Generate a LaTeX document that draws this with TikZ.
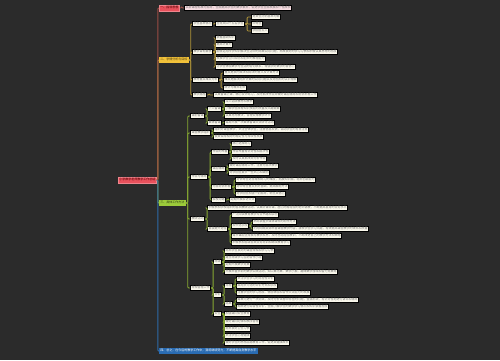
\documentclass[tikz,border=0pt]{standalone}
\usepackage{fontspec}
\newfontfamily\cjk{Noto Sans CJK SC}
\definecolor{bg}{HTML}{2B2B2B}
\definecolor{rootred}{HTML}{E8515C}
\definecolor{pinkbg}{HTML}{F8DDE2}
\definecolor{yelbg}{HTML}{F2C23A}
\definecolor{grnbg}{HTML}{9CCB3B}
\definecolor{blubg}{HTML}{2A6CB3}
\definecolor{leafbg}{HTML}{FAF8EC}
\definecolor{rl}{HTML}{9A4C44}
\definecolor{yl}{HTML}{B09438}
\definecolor{gl}{HTML}{86A832}
\definecolor{bl}{HTML}{2E6BA8}

\begin{document}
\begin{tikzpicture}[x=1pt,y=-1pt,
  every node/.style={anchor=west, font=\cjk\fontsize{3}{3.6}\selectfont,
    inner xsep=1.2pt, inner ysep=1.1pt, text height=2.4pt, text depth=0.6pt},
  elbow/.style={rounded corners=1pt, to path={-- ++(2,0) |- (\tikztotarget)}},
  trunk/.style={rounded corners=1pt, to path={-- ++(1,0) |- (\tikztotarget)}}]
\tikzstyle{leaf}=[fill=leafbg, draw=black, line width=0.7pt, text=black!55]
\tikzstyle{pinkleaf}=[leaf, fill=pinkbg]
\tikzstyle{rootn}=[fill=rootred, draw=rootred!70!white, line width=0.4pt, text=red!30!black, inner ysep=1.8pt]
\tikzstyle{yeln}=[fill=yelbg, text=yelbg!30!black, inner ysep=1.6pt]
\tikzstyle{grnn}=[fill=grnbg, text=grnbg!30!black, inner ysep=1.6pt]
\tikzstyle{blun}=[fill=blubg, text=white, inner ysep=1.6pt]
\tikzstyle{rline}=[draw=rl, line width=1pt]
\tikzstyle{yline}=[draw=yl, line width=0.8pt]
\tikzstyle{gline}=[draw=gl, line width=0.8pt]
\tikzstyle{bline}=[draw=bl, line width=1pt]

\fill[bg] (0,0) rectangle (500,360);
\useasboundingbox (0,0) rectangle (500,360);

% root and main branches
\node[rootn] (R) at (118,180) {小学数学老师教学工作总结};
\node[rootn] (B1) at (159,8) {一、指导思想};
\node[yeln] (B2) at (159,60) {二、学情分析与目标};
\node[grnn] (B3) at (159,203) {三、具体工作方法};
\node[blun] (B4) at (159,351) {四、总之，在今后的教学工作中，我将继续努力，不断提高自身教学水平};

% branch 1
\node[pinkleaf] (r1) at (184,8) {以新课程标准为指导，全面提高学生的数学素养，促进学生全面发展和个性成长};

% branch 2
\node[leaf] (a1) at (192,24) {学生基本情况};
\node[leaf] (a1c) at (215,24) {全班共四十五名学生};
\node[leaf] (a1x) at (251,17) {男女生比例基本均衡};
\node[leaf] (a1y) at (251,24) {中等生};
\node[leaf] (a1z) at (251,31) {学困生五人};
\node[leaf] (a2) at (192,52) {教学目标要求};
\node[leaf] (a2a) at (215,38) {掌握基础知识};
\node[leaf] (a2b) at (215,45) {提高计算力};
\node[leaf] (a2c) at (215,52) {能够运用所学知识解决生活中的简单实际问题，养成良好的学习习惯和积极认真思考的态度};
\node[leaf] (a2d) at (215,59) {发展学生空间观念和初步的推理能力};
\node[leaf] (a2e) at (215,67) {让学生体验数学与生活的密切联系，增强学好数学的自信心};
\node[leaf] (a3) at (192,80) {教材重点难点分析};
\node[leaf] (a3a) at (223,73) {重点是表内乘法和除法的意义及计算方法};
\node[leaf] (a3b) at (223,80) {难点是解决两步计算的实际问题以及对图形的认识理解};
\node[leaf] (a3c) at (223,88) {统计与概率初步};
\node[leaf] (a4) at (192,95) {教学措施};
\node[leaf] (a4a) at (213,95) {认真备课上课，精心设计练习，及时批改作业并做好课后辅导和培优补差工作};

% branch 3
\node[leaf] (g1) at (190,116) {课前备课};
\node[leaf] (g1a) at (207,109) {个人备课};
\node[leaf] (g1a1) at (224,102) {深入钻研教材和教参};
\node[leaf] (g1a2) at (224,109) {了解学生原有知识技能的质量及兴趣需要};
\node[leaf] (g1a3) at (224,116) {认真考虑教法，合理安排教学环节};
\node[leaf] (g1b) at (207,123) {集体备课};
\node[leaf] (g1b1) at (224,123) {每周开展一次集体备课交流研讨活动};
\node[leaf] (g2) at (190,133) {课堂教学组织};
\node[leaf] (g2a) at (213,130) {组织好课堂教学，关注全体学生，注意信息反馈，调动学生的有意注意};
\node[leaf] (g2b) at (213,137) {使其保持相对的稳定性与持续性发展};
\node[leaf] (g3) at (190,177) {作业与辅导};
\node[leaf] (g3a) at (211,152) {作业的布置};
\node[leaf] (g3a1) at (231,144) {精心选择练习};
\node[leaf] (g3a2) at (231,152) {作业布置有针对性和层次性};
\node[leaf] (g3a3) at (231,159) {及时认真批改并分析作业};
\node[leaf] (g3b) at (211,169) {课后辅导};
\node[leaf] (g3b1) at (228,166) {做好课后辅导工作，注意分层次教学};
\node[leaf] (g3b2) at (228,173) {对学困生要多一些关心和鼓励};
\node[leaf] (g3c) at (211,187) {分层培优补差};
\node[leaf] (g3c1) at (235,180) {对优等生适当增加练习的难度，拓展知识面，培养创新能力};
\node[leaf] (g3c2) at (235,187) {对中等生重点抓好基础，提高解题方法};
\node[leaf] (g3c3) at (235,194) {对学困生加强个别指导，树立其信心};
\node[leaf] (g3d) at (211,200) {家校沟通};
\node[leaf] (g3d1) at (229,200) {定期开展家访交流};
\node[leaf] (g4) at (190,219) {教研活动};
\node[leaf] (g4a) at (207,208) {积极参加学校组织的各项教研活动，认真听课评课，虚心向有经验的老师请教，不断提高自身的业务水平};
\node[leaf] (g4b) at (207,229) {自我提升途径};
\node[leaf] (g4b1) at (231,215) {广泛阅读教育教学专业书籍和杂志};
\node[leaf] (g4b2) at (231,226) {现代化手段};
\node[leaf] (g4b2a) at (252,222) {熟练掌握多媒体课件的制作方法};
\node[leaf] (g4b2b) at (252,229) {利用网络资源丰富课堂教学内容，激发学生学习兴趣，有效提高课堂教学的效率和质量};
\node[leaf] (g4b3) at (231,236) {每节课后坚持撰写教学反思，及时总结经验教训，不断改进自己的教学方法和策略};
\node[leaf] (g4b4) at (231,243) {积极参加各级各类业务培训和继续教育学习};
\node[leaf] (g5) at (190,288) {常规管理工作};
\node[leaf] (g5a) at (213,262) {班级};
\node[leaf] (g5a1) at (224,251) {培养学生良好的课堂常规和学习习惯};
\node[leaf] (g5a2) at (224,258) {建立班级学习互助合作小组};
\node[leaf] (g5a3) at (224,265) {定期开展数学竞赛};
\node[leaf] (g5a4) at (224,272) {开展丰富多彩的数学实践活动，如口算比赛、数学小报、趣味数学游戏和智力竞赛等};
\node[leaf] (g5b) at (213,295) {评价};
\node[leaf] (g5b1) at (224,286) {过程};
\node[leaf] (g5b1a) at (236,279) {关注学生学习的过程性评价};
\node[leaf] (g5b1b) at (236,286) {采用多元化的评价方式和手段};
\node[leaf] (g5b1c) at (236,293) {注重学生的学习态度、情感体验和合作交流能力的发展};
\node[leaf] (g5b2) at (224,304) {结果};
\node[leaf] (g5b2a) at (236,300) {每单元进行一次测试，及时分析试卷中存在的问题，查漏补缺，有针对性地进行讲评和辅导};
\node[leaf] (g5b2b) at (236,307) {期末进行综合性评价，全面了解学生的数学学习情况和知识掌握程度};
\node[leaf] (g5c) at (213,314) {安全};
\node[leaf] (g5c1) at (224,314) {加强课间安全教育};
\node[leaf] (g5c2) at (224,322) {做好课间纪律和秩序管理};
\node[leaf] (g5c3) at (224,329) {培养良好卫生习惯};
\node[leaf] (g5c4) at (224,336) {关注学生心理健康};
\node[leaf] (g5c5) at (224,343) {做好学生的思想品德教育工作，促进其健康成长};

% connectors
\draw[gline, line width=1pt] (R.east) edge[trunk] (B3.west);
\draw[bline] (R.east) edge[trunk] (B4.west);
\draw[yline, line width=1pt] (R.east) edge[trunk] (B2.west);
\draw[rline] (R.east) edge[trunk] (B1.west);
\draw[rline, line width=0.8pt] (B1.east) edge[elbow] (r1.west);

\draw[yline] (B2.east) edge[elbow] (a1.west) edge[elbow] (a2.west) edge[elbow] (a3.west) edge[elbow] (a4.west);
\draw[yline] (a1.east) edge[elbow] (a1c.west);
\draw[yline] (a1c.east) edge[elbow] (a1x.west) edge[elbow] (a1y.west) edge[elbow] (a1z.west);
\draw[yline] (a2.east) edge[elbow] (a2a.west) edge[elbow] (a2b.west) edge[elbow] (a2c.west) edge[elbow] (a2d.west) edge[elbow] (a2e.west);
\draw[yline] (a3.east) edge[elbow] (a3a.west) edge[elbow] (a3b.west) edge[elbow] (a3c.west);
\draw[yline] (a4.east) edge[elbow] (a4a.west);

\draw[gline] (B3.east) edge[elbow] (g1.west) edge[elbow] (g2.west) edge[elbow] (g3.west) edge[elbow] (g4.west) edge[elbow] (g5.west);
\draw[gline] (g1.east) edge[elbow] (g1a.west) edge[elbow] (g1b.west);
\draw[gline] (g1a.east) edge[elbow] (g1a1.west) edge[elbow] (g1a2.west) edge[elbow] (g1a3.west);
\draw[gline] (g1b.east) edge[elbow] (g1b1.west);
\draw[gline] (g2.east) edge[elbow] (g2a.west) edge[elbow] (g2b.west);
\draw[gline] (g3.east) edge[elbow] (g3a.west) edge[elbow] (g3b.west) edge[elbow] (g3c.west) edge[elbow] (g3d.west);
\draw[gline] (g3a.east) edge[elbow] (g3a1.west) edge[elbow] (g3a2.west) edge[elbow] (g3a3.west);
\draw[gline] (g3b.east) edge[elbow] (g3b1.west) edge[elbow] (g3b2.west);
\draw[gline] (g3c.east) edge[elbow] (g3c1.west) edge[elbow] (g3c2.west) edge[elbow] (g3c3.west);
\draw[gline] (g3d.east) edge[elbow] (g3d1.west);
\draw[gline] (g4.east) edge[elbow] (g4a.west) edge[elbow] (g4b.west);
\draw[gline] (g4b.east) edge[elbow] (g4b1.west) edge[elbow] (g4b2.west) edge[elbow] (g4b3.west) edge[elbow] (g4b4.west);
\draw[gline] (g4b2.east) edge[elbow] (g4b2a.west) edge[elbow] (g4b2b.west);
\draw[gline] (g5.east) edge[elbow] (g5a.west) edge[elbow] (g5b.west) edge[elbow] (g5c.west);
\draw[gline] (g5a.east) edge[elbow] (g5a1.west) edge[elbow] (g5a2.west) edge[elbow] (g5a3.west) edge[elbow] (g5a4.west);
\draw[gline] (g5b.east) edge[elbow] (g5b1.west) edge[elbow] (g5b2.west);
\draw[gline] (g5b1.east) edge[elbow] (g5b1a.west) edge[elbow] (g5b1b.west) edge[elbow] (g5b1c.west);
\draw[gline] (g5b2.east) edge[elbow] (g5b2a.west) edge[elbow] (g5b2b.west);
\draw[gline] (g5c.east) edge[elbow] (g5c1.west) edge[elbow] (g5c2.west) edge[elbow] (g5c3.west) edge[elbow] (g5c4.west) edge[elbow] (g5c5.west);
\end{tikzpicture}
\end{document}
